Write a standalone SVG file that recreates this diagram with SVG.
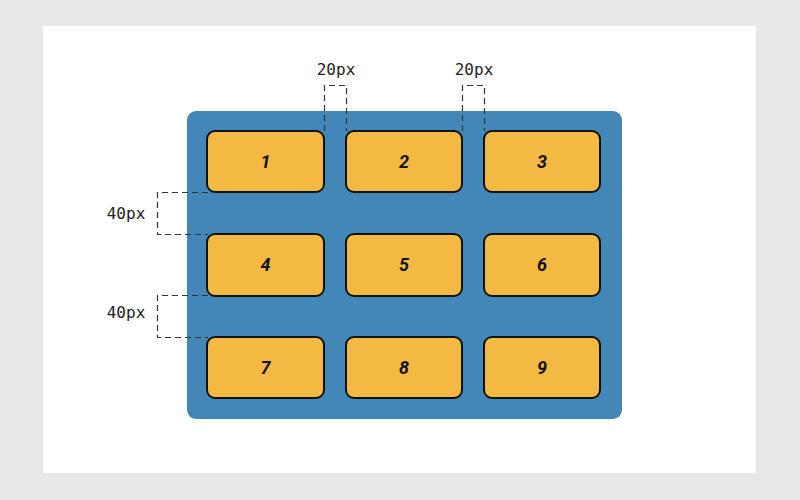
<svg xmlns="http://www.w3.org/2000/svg" width="800" height="500" viewBox="0 0 800 500">
<style>
.cell{fill:#f4b942;stroke:#111;stroke-width:2}
.num{font-family:Roboto,"Liberation Sans",sans-serif;font-weight:bold;font-style:italic;font-size:18px;fill:#111;text-anchor:middle}
.dash{fill:none;stroke:#333;stroke-width:1.2;stroke-dasharray:6 4}
.lbl{font-family:"DejaVu Sans Mono","Liberation Mono",monospace;font-size:16px;fill:#222;text-anchor:middle}
</style>
<rect width="800" height="500" fill="#e8e8e8"/>
<rect x="43" y="26" width="713" height="447" fill="#fff"/>
<rect id="container" x="187" y="111" width="435" height="308" rx="9" fill="#4287b8"/>
<g id="n1"><rect class="cell" x="207" y="131" width="117" height="61" rx="8"/><text class="num" x="265.5" y="168">1</text></g>
<g id="n2"><rect class="cell" x="346" y="131" width="116" height="61" rx="8"/><text class="num" x="404" y="168">2</text></g>
<g id="n3"><rect class="cell" x="484" y="131" width="116" height="61" rx="8"/><text class="num" x="542" y="168">3</text></g>
<g id="n4"><rect class="cell" x="207" y="234" width="117" height="62" rx="8"/><text class="num" x="265.5" y="271">4</text></g>
<g id="n5"><rect class="cell" x="346" y="234" width="116" height="62" rx="8"/><text class="num" x="404" y="271">5</text></g>
<g id="n6"><rect class="cell" x="484" y="234" width="116" height="62" rx="8"/><text class="num" x="542" y="271">6</text></g>
<g id="n7"><rect class="cell" x="207" y="337" width="117" height="61" rx="8"/><text class="num" x="265.5" y="374">7</text></g>
<g id="n8"><rect class="cell" x="346" y="337" width="116" height="61" rx="8"/><text class="num" x="404" y="374">8</text></g>
<g id="n9"><rect class="cell" x="484" y="337" width="116" height="61" rx="8"/><text class="num" x="542" y="374">9</text></g>
<g id="connectors">
<path class="dash" d="M324.5 131V85.5H346.5V131"/>
<path class="dash" d="M462.5 131V85.5H484.5V131"/>
<path class="dash" d="M208 192.5H157.5V234.5H208"/>
<path class="dash" d="M208 295.5H157.5V337.5H208"/>
</g>
<text class="lbl" x="336" y="75">20px</text>
<text class="lbl" x="474" y="75">20px</text>
<text class="lbl" x="126" y="219">40px</text>
<text class="lbl" x="126" y="318">40px</text>
</svg>
